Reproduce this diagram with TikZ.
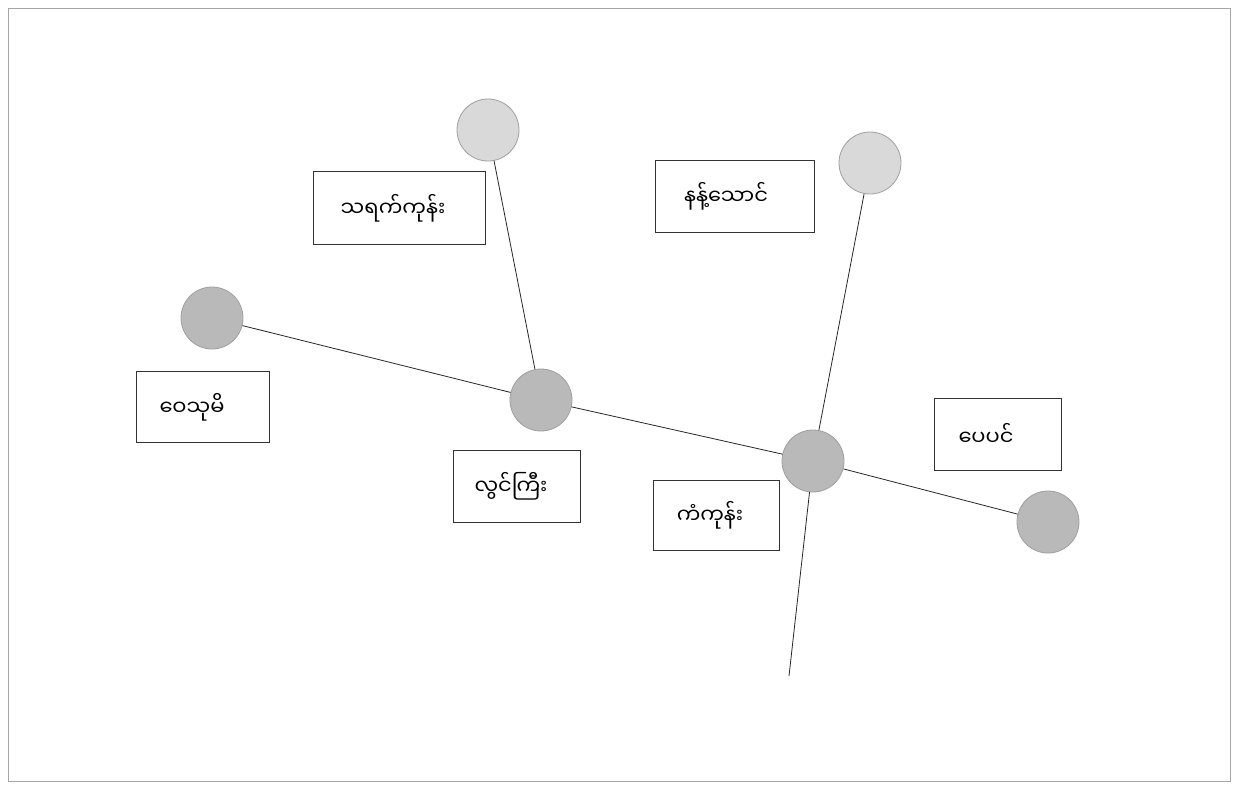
\documentclass[tikz,border=0pt]{standalone}
\usepackage{fontspec}
\newfontfamily\myfont[Script=Myanmar]{Noto Sans Myanmar UI}
\begin{document}
\begin{tikzpicture}[x=1pt,y=-1pt,
  dot/.style={circle,minimum size=62pt,inner sep=0pt,draw=gray!75,line width=0.8pt},
  light/.style={dot,fill=gray!30},
  darkdot/.style={dot,fill=gray!55},
  label/.style={draw=black!80,line width=0.7pt,font=\myfont\fontsize{21}{24}\selectfont,inner sep=0pt},
  link/.style={draw=black!85,line width=0.8pt}]
\useasboundingbox (0,0) rectangle (1237,788);
\draw[gray!70,line width=1pt] (8,8) rectangle (1230,781);
% circles
\node[light] (t1) at (488,130) {};
\node[light] (t2) at (870,163) {};
\node[darkdot] (w) at (212,318) {};
\node[darkdot] (c) at (541,400) {};
\node[darkdot] (k) at (813,461) {};
\node[darkdot] (e) at (1048,522) {};
\coordinate (s) at (789,676);
% links
\draw[link] (w) -- (c);
\draw[link] (c) -- (k);
\draw[link] (k) -- (e);
\draw[link] (t1) -- (c);
\draw[link] (t2) -- (k);
\draw[link] (k) -- (s);
% labels
\node[label,minimum width=172pt,minimum height=73pt] (l1) at (399,208) {သရက်ကုန်း\hspace*{12pt}};
\node[label,minimum width=159pt,minimum height=72pt] (l2) at (735,196) {နန့်သောင်\hspace*{18pt}};
\node[label,minimum width=133pt,minimum height=71pt] (l3) at (203,407) {ဝေသုမိ\hspace*{22pt}};
\node[label,minimum width=127pt,minimum height=72pt] (l4) at (517,486) {လွင်ကြီး\hspace*{12pt}};
\node[label,minimum width=126pt,minimum height=70pt] (l5) at (716,515) {ကံကုန်း\hspace*{12pt}};
\node[label,minimum width=127pt,minimum height=72pt] (l6) at (998,434) {ပေပင်\hspace*{24pt}};
\end{tikzpicture}
\end{document}
